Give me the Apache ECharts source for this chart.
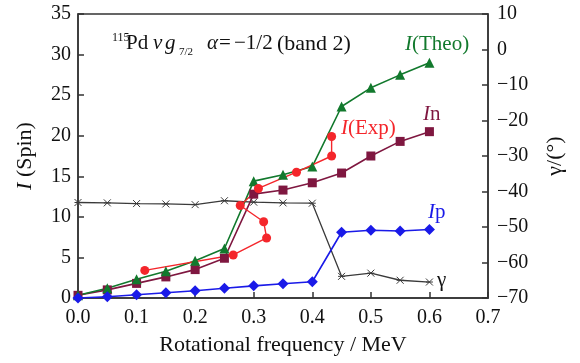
<!DOCTYPE html>
<html>
<head>
<meta charset="utf-8">
<script src="https://cdn.jsdelivr.net/npm/echarts@6/dist/echarts.min.js"></script>
<style>
    html, body { margin: 0; padding: 0; background: #fff; }
    #chart { width: 580px; height: 363px; }
</style>
</head>
<body>
<div id="chart"></div>
<script>
// rotational frequency (MeV) for the calculated curves
var freq = [0.0, 0.05, 0.1, 0.15, 0.2, 0.25, 0.3, 0.35, 0.4, 0.45, 0.5, 0.55, 0.6];
var theo = [0.35, 1.2, 2.3, 3.3, 4.6, 6.1, 14.4, 15.2, 16.2, 23.6, 25.9, 27.5, 29.0];
var spinN = [0.33, 1.0, 1.8, 2.6, 3.5, 4.9, 12.8, 13.3, 14.2, 15.4, 17.5, 19.3, 20.5];
var spinP = [0.0, 0.15, 0.4, 0.65, 0.9, 1.2, 1.5, 1.75, 2.0, 8.1, 8.35, 8.25, 8.45];
var gamma = [-43.1, -43.2, -43.4, -43.5, -43.7, -42.6, -43.0, -43.2, -43.3, -63.9, -63.0, -65.0, -65.5];

// experimental points (backbend)
var expFreq = [0.114, 0.265, 0.322, 0.317, 0.277, 0.308, 0.373, 0.433, 0.433];
var expSpin = [3.4, 5.3, 7.4, 9.4, 11.4, 13.5, 15.5, 17.5, 19.9];

var font = 'Liberation Serif';
var axisColor = '#333';

function pairs(xs, ys) {
    var out = [];
    for (var i = 0; i < xs.length; i++) {
        out.push([xs[i], ys[i]]);
    }
    return out;
}

function label(text, x, y, size, color, italic) {
    return {
        type: 'text', left: x, top: y,
        style: {
            text: text, fill: color || '#111',
            font: (italic ? 'italic ' : '') + size + 'px "Liberation Serif"'
        }
    };
}

function spinLabel(suffix, x, y, color) {
    return {
        type: 'text', left: x, top: y,
        style: {
            text: '{i|I}' + suffix, fill: color, font: '21px "Liberation Serif"',
            rich: {i: {fontFamily: font, fontSize: 21, fontStyle: 'italic', color: color}}
        }
    };
}

var myChart = echarts.init(document.getElementById('chart'));
var option = {
    animation: false,
    grid: {
        left: 78,
        right: 92,
        top: 14,
        bottom: 65,
        show: true,
        borderColor: axisColor,
        borderWidth: 1.5
    },
    xAxis: {
        type: 'value',
        min: 0,
        max: 0.7,
        interval: 0.1,
        name: 'Rotational frequency / MeV',
        nameLocation: 'middle',
        nameGap: 36,
        nameTextStyle: {fontFamily: font, fontSize: 22, color: '#111'},
        axisLine: {lineStyle: {color: axisColor, width: 1.5}},
        axisTick: {inside: true, length: 6, lineStyle: {color: axisColor, width: 1.5}},
        axisLabel: {
            fontFamily: font, fontSize: 20, color: '#111', margin: 10,
            formatter: function (v) { return v.toFixed(1); }
        },
        splitLine: {show: false}
    },
    yAxis: [
        {
            type: 'value',
            min: 0,
            max: 35,
            interval: 5,
            name: '{i|I} (Spin)',
            nameLocation: 'middle',
            nameRotate: 90,
            nameGap: 42,
            nameTextStyle: {
                fontFamily: font, fontSize: 22, color: '#111',
                rich: {i: {fontFamily: font, fontSize: 22, fontStyle: 'italic', color: '#111'}}
            },
            axisLine: {show: true, lineStyle: {color: axisColor, width: 1.5}},
            axisTick: {show: true, inside: true, length: 6, lineStyle: {color: axisColor, width: 1.5}},
            axisLabel: {fontFamily: font, fontSize: 20, color: '#111', margin: 7},
            splitLine: {show: false}
        },
        {
            type: 'value',
            position: 'right',
            min: -70,
            max: 10,
            interval: 10,
            name: '{g|γ/(°)}',
            nameLocation: 'middle',
            nameRotate: 90,
            nameGap: 56,
            nameTextStyle: {
                fontFamily: font, fontSize: 22, color: '#111',
                rich: {g: {fontFamily: font, fontSize: 22, color: '#111'}}
            },
            axisLine: {show: true, lineStyle: {color: axisColor, width: 1.5}},
            axisTick: {show: true, inside: true, length: 6, lineStyle: {color: axisColor, width: 1.5}},
            axisLabel: {
                fontFamily: font, fontSize: 20, color: '#111', margin: 9,
                formatter: function (v) { return String(v).replace('-', '\u2212'); }
            },
            splitLine: {show: false}
        }
    ],
    series: [
        {
            name: 'gamma',
            type: 'line',
            yAxisIndex: 1,
            data: pairs(freq, gamma),
            symbol: 'path://M0,0L10,10M10,0L0,10M0,5L10,5',
            symbolSize: 7,
            lineStyle: {color: '#3a3a3a', width: 1.3},
            itemStyle: {color: 'none', borderColor: '#3a3a3a', borderWidth: 1}
        },
        {
            name: 'In',
            type: 'line',
            data: pairs(freq, spinN),
            symbol: 'rect',
            symbolSize: 9,
            lineStyle: {color: '#7f1740', width: 1.6},
            itemStyle: {color: '#7f1740'}
        },
        {
            name: 'Theo',
            type: 'line',
            data: pairs(freq, theo),
            symbol: 'triangle',
            symbolSize: 10,
            lineStyle: {color: '#12792d', width: 1.6},
            itemStyle: {color: '#12792d'}
        },
        {
            name: 'Exp',
            type: 'line',
            data: pairs(expFreq, expSpin),
            symbol: 'circle',
            symbolSize: 9,
            lineStyle: {color: '#f4262b', width: 1.4},
            itemStyle: {color: '#f4262b'}
        },
        {
            name: 'Ip',
            type: 'line',
            data: pairs(freq, spinP),
            symbol: 'diamond',
            symbolSize: 11,
            lineStyle: {color: '#1a1ae8', width: 1.6},
            itemStyle: {color: '#1a1ae8'}
        }
    ],
    graphic: [
        // 115Pd vg7/2  alpha=-1/2 (band 2)
        label('115', 112, 32, 12, '#111', false),
        label('Pd', 126, 33, 21, '#111', false),
        label('ν', 153, 33, 21, '#111', true),
        label('g', 165, 33, 21, '#111', true),
        label('7/2', 179, 47, 11, '#111', false),
        label('α', 207, 33, 21, '#111', true),
        label('=', 219, 33, 21, '#111', false),
        label('\u22121/2', 234, 33, 21, '#111', false),
        label('(band 2)', 277, 33, 22, '#111', false),
        spinLabel('(Theo)', 405, 34, '#12792d'),
        spinLabel('(Exp)', 341, 118, '#f4262b'),
        spinLabel('n', 423, 104, '#7f1740'),
        spinLabel('p', 428, 202, '#1a1ae8'),
        label('γ', 437, 270, 21, '#111', false)
    ]
};
myChart.setOption(option);
</script>
</body>
</html>
